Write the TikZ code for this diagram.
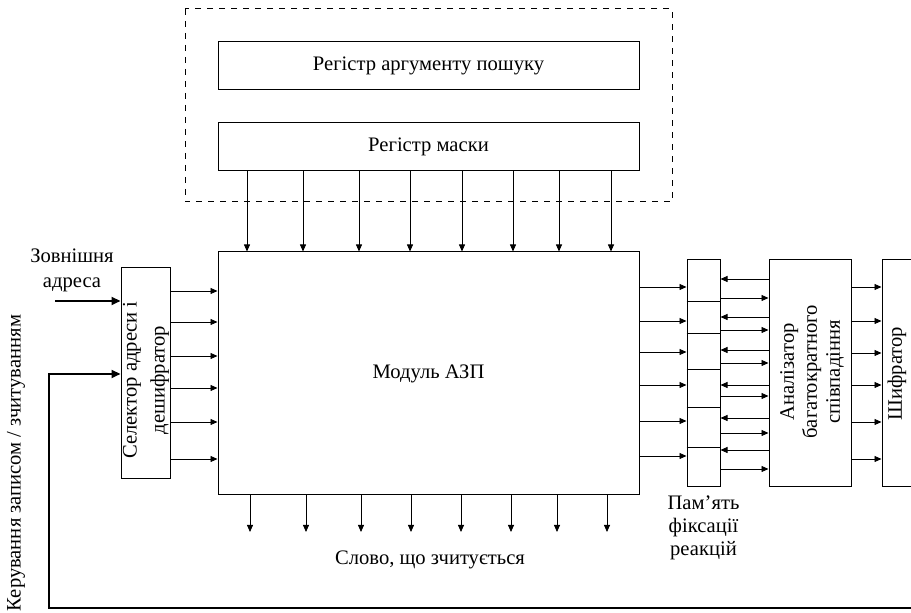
\documentclass[tikz,border=0pt]{standalone}
\usepackage{fontspec}
\setmainfont{Liberation Serif}
\usetikzlibrary{arrows.meta}

\begin{document}
\begin{tikzpicture}[x=0.5pt, y=-0.5pt,
  font=\fontsize{10.3}{11.5}\selectfont,
  box/.style={draw, line width=0.5pt, inner sep=0pt},
  sig/.style={line width=0.4pt, -{Triangle[length=3.5pt,width=3pt]}},
  bus/.style={line width=1pt, -{Triangle[length=4.5pt,width=4pt]}}]

\useasboundingbox (0,0) rectangle (911,613);

\draw [dashed, line width=0.5pt] (185,9) rectangle (672,202);

\node [box, minimum width=210.5pt, minimum height=24pt] (arg) at (428.5,66) {Регістр аргументу пошуку};
\node [box, minimum width=210.5pt, minimum height=24pt] (mask) at (428.5,147) {Регістр маски};
\node [box, minimum width=210.5pt, minimum height=121.5pt] (azp) at (428.5,373.5) {Модуль АЗП};
\node [box, minimum width=24.5pt, minimum height=105.5pt] (sel) at (145.5,373.5) {};
\node [box, minimum width=16.5pt, minimum height=113.5pt] (mem) at (703.5,373.5) {};
\node [box, minimum width=41pt, minimum height=113.5pt] (ana) at (810,373.5) {};
\node [box, minimum width=16pt, minimum height=113.5pt] (enc) at (898,373.5) {};

\node [rotate=90, align=center, font=\fontsize{10.3}{14}\selectfont] (selT) at (146,380) {Селектор адреси і\\дешифратор};
\node [rotate=90, align=center] (anaT) at (812,372) {Аналізатор\\багатократного\\співпадіння};
\node [rotate=90] (encT) at (897,373.5) {Шифратор};
\node [align=center, font=\fontsize{10.3}{12.5}\selectfont] (extT) at (72,270) {Зовнішня\\адреса};
\node [align=center] (memT) at (703.5,528) {Пам’ять\\фіксації\\реакцій};
\node (word) at (430,560) {Слово, що зчитується};
\node [rotate=90] (ctlT) at (16,463) {Керування записом / зчитуванням};

% register -> module
\foreach \x in {247,303,359,410,462,513,559,611}
  \draw [sig] (mask.south -| \x,0) -- (azp.north -| \x,0);
% module -> output word
\foreach \x in {250,306,361,411,461,511,557,607}
  \draw [sig] (azp.south -| \x,0) -- (\x,532);

% selector -> module
\foreach \y in {291,322,356,388,422,459}
  \draw [sig] (sel.east |- 0,\y) -- (azp.west |- 0,\y);
% module -> memory
\foreach \y in {287,321,352,385,421,456}
  \draw [sig] (azp.east |- 0,\y) -- (mem.west |- 0,\y);
\foreach \y in {301,333,369,407,447}
  \draw [line width=0.4pt] (mem.west |- 0,\y) -- (mem.east |- 0,\y);
% memory <-> analyzer
\foreach \y in {279,317,350,385,418,450}
  \draw [sig] (ana.west |- 0,\y) -- (mem.east |- 0,\y);
\foreach \y in {298,330,363,396,433,469}
  \draw [sig] (mem.east |- 0,\y) -- (ana.west |- 0,\y);
% analyzer -> encoder
\foreach \y in {287,321,353,385,422,459}
  \draw [sig] (ana.east |- 0,\y) -- (enc.west |- 0,\y);

\coordinate (ext) at (55,301);
\coordinate (ctl) at (920,608);
\draw [bus] (ext) -- (sel.west |- ext);
\draw [bus] (ctl) -- (49,608) |- (sel.west |- 0,374);

\end{tikzpicture}
\end{document}
